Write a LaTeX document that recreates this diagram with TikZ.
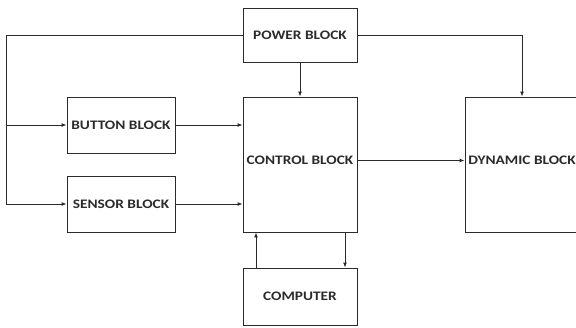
\documentclass[tikz,border=0pt]{standalone}
\usepackage{fontspec}
\setmainfont{Carlito}[FakeStretch=1.18]
\usepackage{tikz}
\usetikzlibrary{positioning, arrows.meta, calc}
\definecolor{Ink}{HTML}{2B2B2B}

\begin{document}
\begin{tikzpicture}[
      x=1pt, y=-1pt,
      font=\fontsize{13}{15}\selectfont\bfseries,
      blk/.style={
        draw=Ink, line width=0.9pt, inner sep=0pt,
        align=center, text=Ink
      },
      arr/.style={-{Latex[length=5pt,width=4pt]}, line width=0.9pt, Ink}
    ]
      \useasboundingbox (0,0) rectangle (576,327);
      \node[blk, minimum width=114pt, minimum height=54pt]  (power)   at (300,35)    {POWER BLOCK};
      \node[blk, minimum width=108pt, minimum height=56pt]  (button)  at (121,125)   {BUTTON BLOCK};
      \node[blk, minimum width=108pt, minimum height=56pt]  (sensor)  at (121,204)   {SENSOR BLOCK};
      \node[blk, minimum width=114pt, minimum height=135pt] (control) at (300,164.5) {};
      \node[blk, minimum width=114pt, minimum height=135pt] (dynamic) at (522,164.5) {};
      \node[blk, minimum width=114pt, minimum height=57pt]  (computer) at (300,296.5) {COMPUTER};
      \node[text=Ink, inner sep=0pt] (ctltext) at ([yshift=4pt]control.center) {CONTROL BLOCK};
      \node[text=Ink, inner sep=0pt] (dyntext) at ([yshift=4pt]dynamic.center) {DYNAMIC BLOCK};
      \coordinate (lft) at (6,35);
      % power feeds
      \draw[arr] (power.west) -- (lft) |- (sensor.west);
      \draw[arr] (lft |- button.west) -- (button.west);
      \draw[arr] (power) -- (control);
      \draw[arr] (power.east) -| (dynamic.north);
      % inputs and outputs of the control block
      \foreach \a in {button, sensor}{\draw[arr] (\a.east) -- (\a.east -| control.west);}
      \draw[arr] (ctltext.east -| control.east) -- (ctltext.east -| dynamic.west);
      \draw[arr] ([xshift=-44pt]computer.north) -- ([xshift=-44pt]control.south);
      \draw[arr] ([xshift=45pt]control.south) -- ([xshift=45pt]computer.north);
    \end{tikzpicture}
\end{document}
